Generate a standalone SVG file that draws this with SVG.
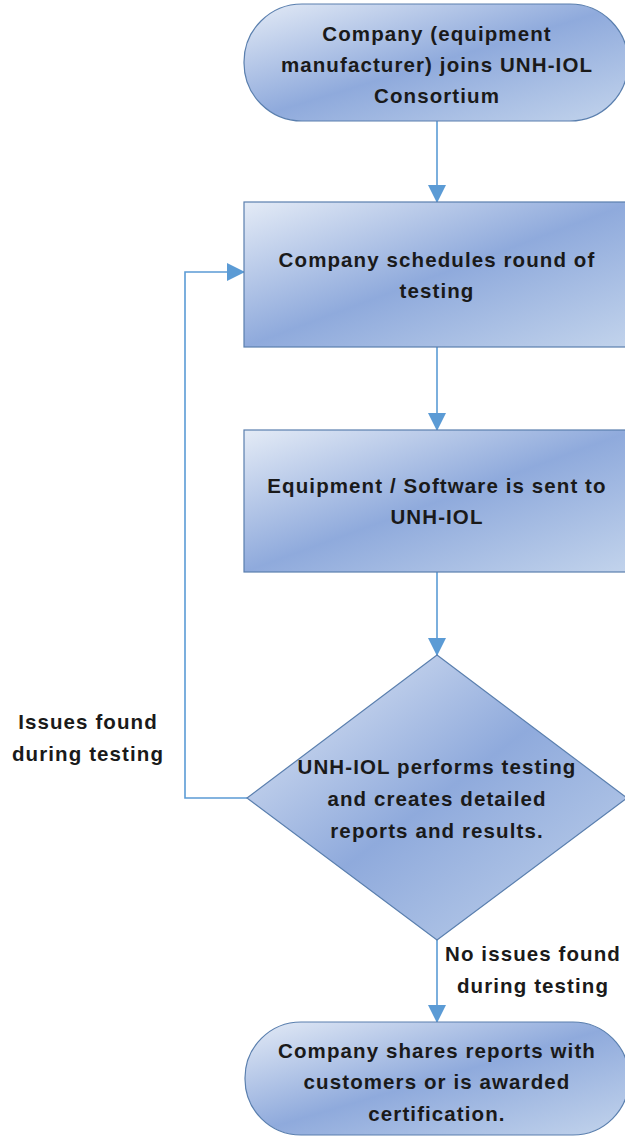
<svg xmlns="http://www.w3.org/2000/svg" width="625" height="1138" viewBox="0 0 625 1138">
<style>
.node{stroke:#5a7fae;stroke-width:1.2}
.t{font-family:"Liberation Sans",Arial,sans-serif;font-weight:bold;font-size:20.5px;letter-spacing:1.1px;fill:#1a1a1a;text-anchor:middle}
.c{fill:none;stroke:#5b9bd5;stroke-width:1.6}
</style>
<defs>
<linearGradient id="g" x1="0" y1="0" x2="1" y2="1">
<stop offset="0" stop-color="#e4ebf6"/>
<stop offset="0.5" stop-color="#8faadc"/>
<stop offset="1" stop-color="#c3d4ec"/>
</linearGradient>
<marker id="ab" markerWidth="18" markerHeight="18" refX="17" refY="9" orient="auto" markerUnits="userSpaceOnUse" viewBox="0 0 18 18">
<path d="M0,0 L18,9 L0,18 z" fill="#5b9bd5"/>
</marker>
</defs>
<g id="connectors">
<line class="c" x1="437" y1="121" x2="437" y2="202" marker-end="url(#ab)"/>
<line class="c" x1="437" y1="347" x2="437" y2="430" marker-end="url(#ab)"/>
<line class="c" x1="437" y1="572" x2="437" y2="655" marker-end="url(#ab)"/>
<line class="c" x1="437" y1="940" x2="437" y2="1022" marker-end="url(#ab)"/>
<polyline class="c" points="247,798 185,798 185,272 244,272" marker-end="url(#ab)"/>
</g>
<g id="n1">
<rect class="node" x="244" y="4" width="384" height="117" rx="58" fill="url(#g)"/>
<text class="t" x="437" y="41">Company (equipment</text>
<text class="t" x="437" y="72">manufacturer) joins UNH-IOL</text>
<text class="t" x="437" y="103">Consortium</text>
</g>
<g id="n2">
<rect class="node" x="244" y="202" width="390" height="145" fill="url(#g)"/>
<text class="t" x="437" y="267">Company schedules round of</text>
<text class="t" x="437" y="298">testing</text>
</g>
<g id="n3">
<rect class="node" x="244" y="430" width="390" height="142" fill="url(#g)"/>
<text class="t" x="437" y="493">Equipment / Software is sent to</text>
<text class="t" x="437" y="524">UNH-IOL</text>
</g>
<g id="n4">
<polygon class="node" points="437,655 627,798 437,940 247,798" fill="url(#g)"/>
<text class="t" x="437" y="774">UNH-IOL performs testing</text>
<text class="t" x="437" y="806">and creates detailed</text>
<text class="t" x="437" y="838">reports and results.</text>
</g>
<g id="n5">
<rect class="node" x="245" y="1022" width="384" height="113" rx="56" fill="url(#g)"/>
<text class="t" x="437" y="1058">Company shares reports with</text>
<text class="t" x="437" y="1089">customers or is awarded</text>
<text class="t" x="437" y="1121">certification.</text>
</g>
<g id="labels">
<text class="t" x="88" y="729">Issues found</text>
<text class="t" x="88" y="761">during testing</text>
<text class="t" x="533" y="961">No issues found</text>
<text class="t" x="533" y="993">during testing</text>
</g>
</svg>
